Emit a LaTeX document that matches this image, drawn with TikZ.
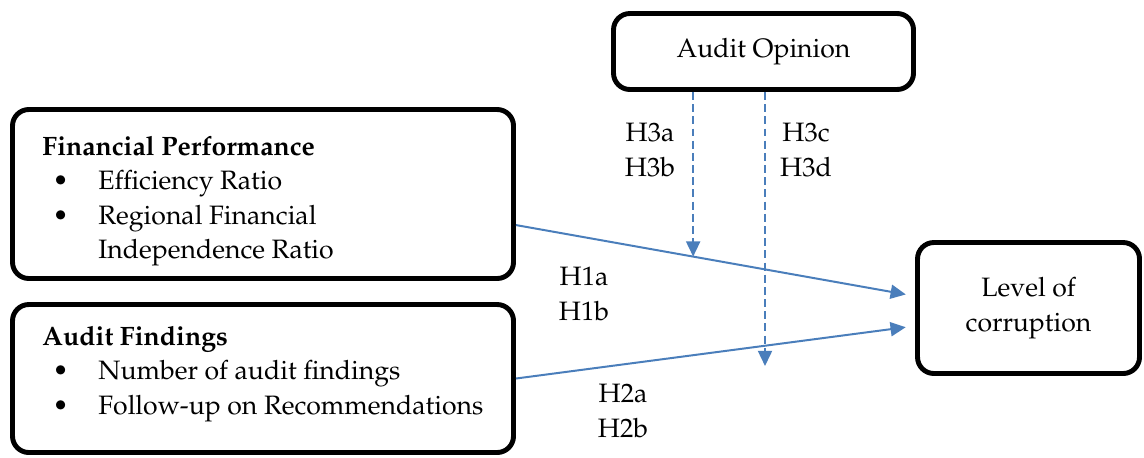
\documentclass[tikz,border=0pt]{standalone}
\usepackage[T1]{fontenc}
\usepackage{mathpazo}
\usepackage{xcolor}
\usepackage{tikz}
\definecolor{linkblue}{HTML}{4A7EBB}
\usetikzlibrary{arrows.meta}

% bullet line with hanging indent
\newcommand{\bitem}[1]{\makebox[23.9pt][l]{\hspace*{4.3pt}\textbullet}#1}

\begin{document}
\begin{tikzpicture}[
    x=0.015cm, y=-0.015cm,
    every node/.style={font=\fontsize{11.35}{14.7}\selectfont},
    panel/.style={rectangle, rounded corners=7pt, draw, line width=2.1pt,
                  inner sep=0pt},
    listtext/.style={align=left, anchor=base west, inner sep=0pt},
    hyp/.style={align=center, inner sep=0pt},
    link/.style={draw=linkblue, line width=0.85pt,
                 -{Triangle[length=6.5pt, width=6pt]}},
    modlink/.style={link, dash pattern=on 3.4pt off 1.8pt},
]
\useasboundingbox (0,0) rectangle (1144,457);

% Boxes
\node[panel, minimum width=4.5cm, minimum height=1.14cm]
    (ao) at (763.5, 51.5) {Audit Opinion};
\node[panel, minimum width=7.515cm, minimum height=2.535cm]
    (fp) at (263, 194) {};
\node[panel, minimum width=7.515cm, minimum height=2.22cm]
    (af) at (263, 378.5) {};
\node[panel, minimum width=3.33cm, minimum height=1.965cm, align=center]
    (loc) at (1028.5, 308) {Level of\\corruption};

% Contents of the two left boxes (anchored on the last baseline)
\node[listtext] (fptext) at (42, 258.5)
    {\textbf{Financial Performance}\\
     \bitem{Efficiency Ratio}\\
     \bitem{Regional Financial}\\
     \hspace*{23.9pt}Independence Ratio};
\node[listtext] (aftext) at (42, 414)
    {\textbf{Audit Findings}\\
     \bitem{Number of audit findings}\\
     \bitem{Follow-up on Recommendations}};

% Direct effects
\draw[link, shorten >=4pt] (fp.-7.2) -- coordinate[pos=0.444] (m1) (loc.174.5);
\draw[link, shorten >=4pt] (af.east) -- (loc.189.5);

% Moderation by audit opinion
\coordinate (m2) at (765, 366);
\draw[modlink] (ao.south -| m1) -- (m1);
\draw[modlink] (ao.south -| m2) -- (m2);

% Hypothesis labels
\node[hyp] (h3ab) at (650, 150) {H3a\\H3b};
\node[hyp] (h3cd) at (806, 150) {H3c\\H3d};
\node[hyp] (h1) at (584, 294) {H1a\\H1b};
\node[hyp] (h2) at (623, 411) {H2a\\H2b};

\end{tikzpicture}
\end{document}
